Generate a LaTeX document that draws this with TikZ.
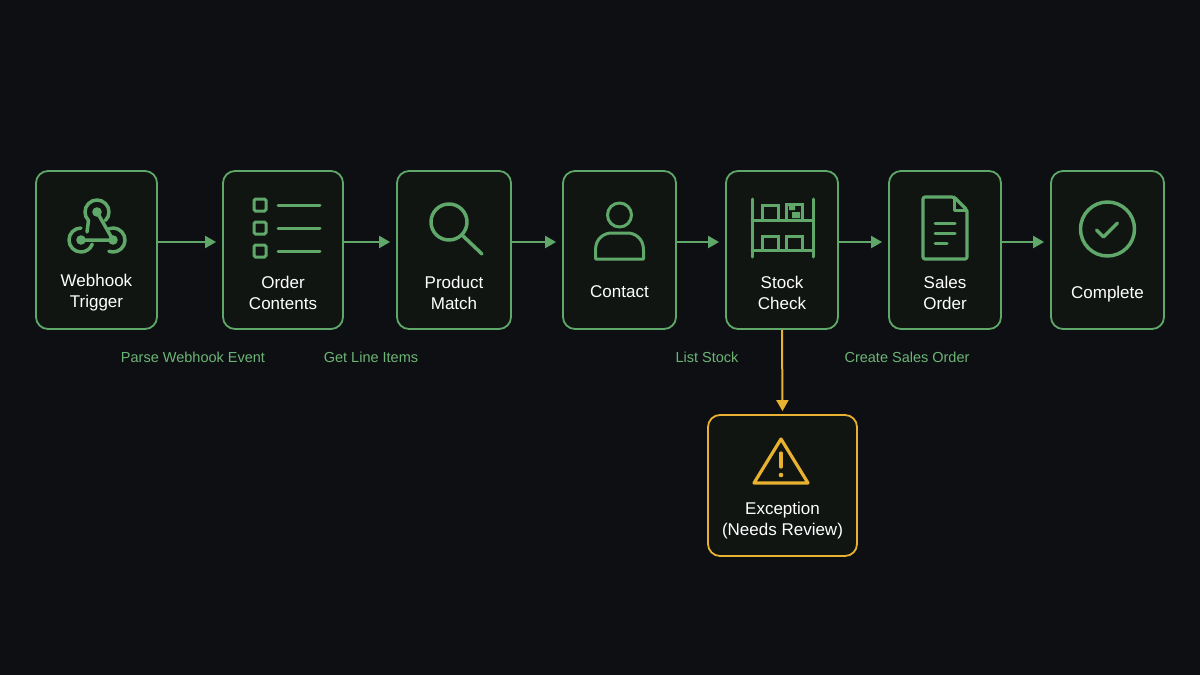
\documentclass[tikz,border=0pt]{standalone}
\usepackage{fontspec}
\setmainfont{Liberation Sans}
\usetikzlibrary{arrows.meta}
\definecolor{bg}{HTML}{0D0F12}
\definecolor{grn}{HTML}{5FA86A}
\definecolor{lbl}{HTML}{6DB577}
\definecolor{boxf}{HTML}{101512}
\definecolor{ylw}{HTML}{E8B130}
\begin{document}
\begin{tikzpicture}[x=1pt,y=-1pt,
  box/.style={draw=grn,line width=1.8pt,fill=boxf,rounded corners=12pt,minimum height=158pt,inner sep=0pt},
  ttl/.style={text=white,font=\fontsize{17}{21}\selectfont,align=center},
  lab/.style={text=lbl,font=\fontsize{14.5}{17}\selectfont},
  flow/.style={draw=grn,line width=2pt,-{Triangle[length=11pt,width=12pt]}},
  ic/.style={draw=grn,line width=3.5pt,line cap=round,line join=round}]
\fill[bg] (0,0) rectangle (1200,675);
\useasboundingbox (0,0) rectangle (1200,675);
\node[box,minimum width=121pt] (b1) at (96.5,250) {};
\node[box,minimum width=120pt] (b2) at (283,250) {};
\node[box,minimum width=114pt] (b3) at (454,250) {};
\node[box,minimum width=113pt] (b4) at (619.5,250) {};
\node[box,minimum width=112pt] (b5) at (782,250) {};
\node[box,minimum width=112pt] (b6) at (945,250) {};
\node[box,minimum width=113pt] (b7) at (1107.5,250) {};
\node[box,draw=ylw,minimum width=149pt,minimum height=141pt] (b8) at (782.5,485.5) {};
\node[ttl] (t1) at (96.5,293) {Webhook\\Trigger};
\node[ttl] (t2) at (283,293) {Order\\Contents};
\node[ttl] (t3) at (454,293) {Product\\Match};
\node[ttl] (t4) at (619.5,292) {Contact};
\node[ttl] (t5) at (782,293) {Stock\\Check};
\node[ttl] (t6) at (945,293) {Sales\\Order};
\node[ttl] (t7) at (1107.5,294) {Complete};
\node[ttl] (t8) at (782.5,521) {Exception\\(Needs Review)};
\foreach \a/\b in {b1/b2,b2/b3,b3/b4,b4/b5,b5/b6,b6/b7}
  \draw[flow] ([yshift=8pt]\a.east) -- ([xshift=-6pt,yshift=8pt]\b.west);
\draw[draw=ylw,line width=2pt,-{Triangle[length=11pt,width=12pt]}] (b5.south) -- ([yshift=3pt]b8.north);
\node[lab] (l1) at (193,357) {Parse Webhook Event};
\node[lab] (l2) at (371,357) {Get Line Items};
\node[lab] (l3) at (707,357) {List Stock};
\node[lab] (l4) at (907,357) {Create Sales Order};
% webhook icon
\begin{scope}[shift={(97,212)}]
 \fill[grn] (0,0) circle (4.8) (-16,28) circle (4.8) (16,28) circle (4.8);
 \draw[ic] (0,0) -- (16,28) -- (-16,28);
 \draw[ic] (135:12) arc (135:405:12);
 \draw[ic] (135:12) -- (-10,20);
 \draw[ic] ([shift={(-16,28)}]270:12) arc (270:20:12);
 \draw[ic] ([shift={(16,28)}]250:12) arc (250:470:12);
\end{scope}
% list icon
\begin{scope}[shift={(283,228)}]
 \foreach \y in {-23,0,23}{
  \draw[grn,line width=3pt,rounded corners=1.5pt] (-29,\y-6) rectangle (-17,\y+6);
  \draw[ic,line width=3pt] (-5,\y) -- (37,\y);}
\end{scope}
% magnifier
\begin{scope}[shift={(454,228)}]
 \draw[ic] (-5,-6) circle (18);
 \draw[ic] (8,7) -- (28,26);
\end{scope}
% person
\begin{scope}[shift={(619.5,228)}]
 \draw[ic,line width=3pt] (0,-13) circle (12);
 \draw[ic,line width=3pt] (-24,31) -- (-24,22) .. controls (-24,10) and (-15,5) .. (-8,5) -- (8,5) .. controls (15,5) and (24,10) .. (24,22) -- (24,31) -- cycle;
\end{scope}
% shelf
\begin{scope}[shift={(782,228)}]
 \draw[ic,line width=3pt] (-30,-29) -- (-30,29) (31,-29) -- (31,29) (-30,-8) -- (31,-8) (-30,22) -- (31,22);
 \draw[grn,line width=3pt] (-20,-23) rectangle (-4,-8) (4,-24) rectangle (20,-8) (-20,8) rectangle (-4,22) (4,8) rectangle (20,22);
 \fill[grn] (7,-24) rectangle (13,-18) (10,-16) rectangle (18,-10);
\end{scope}
% document
\begin{scope}[shift={(945,228)}]
 \draw[ic,line width=3.2pt,rounded corners=2pt] (-22,-31) -- (9,-31) -- (22,-18) -- (22,31) -- (-22,31) -- cycle;
 \draw[ic,line width=3pt] (9,-31) -- (9,-18) -- (22,-18);
 \draw[ic,line width=3pt] (-10,-5) -- (10,-5) (-10,5) -- (10,5) (-10,15) -- (2,15);
\end{scope}
% check
\begin{scope}[shift={(1107.5,229)}]
 \draw[ic] (0,0) circle (27);
 \draw[ic] (-11,1) -- (-4,8) -- (10,-6);
\end{scope}
% warning
\begin{scope}[shift={(781,461)}]
 \draw[draw=ylw,line width=3.2pt,line join=round] (0,-22) -- (27,22) -- (-27,22) -- cycle;
 \draw[draw=ylw,line width=3.2pt,line cap=round] (0,-8) -- (0,6);
 \fill[ylw] (0,14) circle (2.3);
\end{scope}
\end{tikzpicture}
\end{document}
